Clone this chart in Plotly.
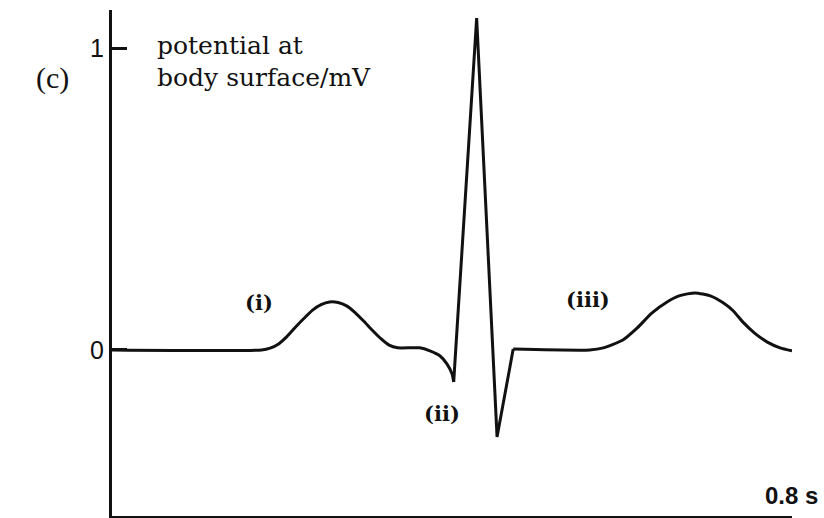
import plotly.graph_objects as go

# ECG trace: time (s) and potential (mV)
time_s = [0.000, 0.176, 0.186, 0.196, 0.206, 0.216, 0.226, 0.236, 0.246, 0.256,
          0.266, 0.276, 0.286, 0.296, 0.306, 0.316, 0.326, 0.336, 0.362, 0.374,
          0.386, 0.394, 0.400, 0.402, 0.429, 0.453, 0.472, 0.562, 0.578, 0.601,
          0.618, 0.635, 0.653, 0.668, 0.686, 0.704, 0.719, 0.731, 0.742, 0.756,
          0.771, 0.786, 0.800]
potential_mv = [0.000, 0.000, 0.006, 0.020, 0.045, 0.076, 0.105, 0.132, 0.150, 0.159,
                0.157, 0.146, 0.124, 0.096, 0.066, 0.038, 0.016, 0.007, 0.007, -0.003,
                -0.020, -0.046, -0.079, -0.106, 1.099, -0.288, 0.003, 0.000, 0.007, 0.033,
                0.073, 0.122, 0.159, 0.180, 0.189, 0.179, 0.156, 0.129, 0.093, 0.056,
                0.026, 0.007, -0.003]

# index ranges: smooth P wave, sharp QRS complex, smooth T wave
q_start = 23   # t = 0.402
j_point = 26   # t = 0.472

y_tick_vals = [0, 1]
y_tick_text = ["0", "1"]

wave_labels = ["(i)", "(ii)", "(iii)"]
wave_label_t = [0.173, 0.388, 0.560]
wave_label_v = [0.156, -0.209, 0.166]

fig = go.Figure()
segments = [
    (0, q_start + 1, "spline"),
    (q_start, j_point + 1, "linear"),
    (j_point, len(time_s), "spline"),
]
for a, b, shape in segments:
    fig.add_trace(go.Scatter(
        x=time_s[a:b], y=potential_mv[a:b], mode="lines",
        line=dict(color="#111111", width=3, shape=shape,
                  smoothing=0.6 if shape == "spline" else None),
        hoverinfo="skip", showlegend=False,
    ))

serif = "DejaVu Serif"
for txt, tx, vy in zip(wave_labels, wave_label_t, wave_label_v):
    fig.add_annotation(x=tx, y=vy, text="<b>" + txt + "</b>", showarrow=False,
                       font=dict(family=serif, size=21, color="#111111"))

fig.add_annotation(xref="paper", yref="paper", x=-0.088, y=0.866, text="(c)",
                   showarrow=False, xanchor="center", yanchor="middle",
                   font=dict(family="Liberation Serif", size=30, color="#111111"))
fig.add_annotation(x=0.0506, y=(350 - 45) / 302, text="potential at", showarrow=False,
                   xanchor="left", yanchor="middle",
                   font=dict(family=serif, size=25, color="#111111"))
fig.add_annotation(x=0.0506, y=(350 - 77) / 302, text="body surface/mV", showarrow=False,
                   xanchor="left", yanchor="middle",
                   font=dict(family=serif, size=25, color="#111111"))
fig.add_annotation(x=0.799, y=-0.483, text="<b>0.8 s</b>", showarrow=False,
                   font=dict(family="Liberation Sans", size=24, color="#111111"))

fig.update_layout(
    width=824, height=518,
    margin=dict(l=112, r=32, t=10, b=2, autoexpand=False),
    paper_bgcolor="white", plot_bgcolor="white",
    xaxis=dict(range=[0, 0.8], showgrid=False, zeroline=False, showline=True,
               linecolor="#111111", linewidth=3, showticklabels=False, ticks=""),
    yaxis=dict(range=[-0.550, 1.126], showgrid=False, zeroline=False, showline=True,
               linecolor="#111111", linewidth=3, tickvals=y_tick_vals, ticktext=y_tick_text,
               ticks="inside", ticklen=15, tickwidth=3, tickcolor="#111111",
               ticklabelstandoff=0,
               tickfont=dict(family="Liberation Sans", size=25, color="#111111")),
)

fig.write_html("out.html", config={"displayModeBar": False},
               post_script="document.body.style.margin='0';document.body.style.overflow='hidden';")
